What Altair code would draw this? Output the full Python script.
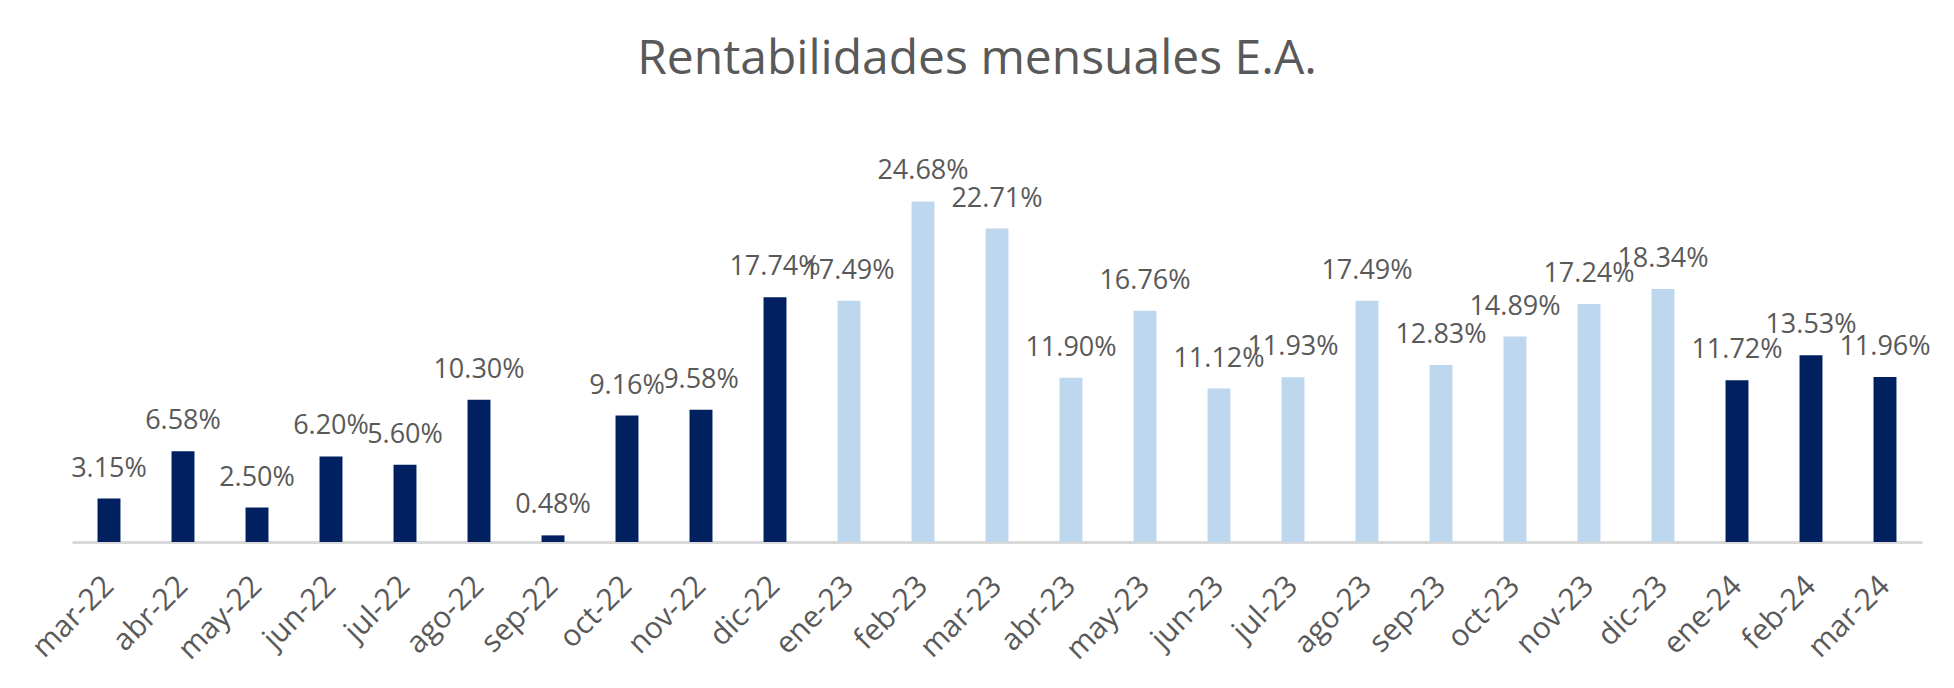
import altair as alt
import pandas as pd

meses = ["mar-22", "abr-22", "may-22", "jun-22", "jul-22", "ago-22", "sep-22", "oct-22",
         "nov-22", "dic-22", "ene-23", "feb-23", "mar-23", "abr-23", "may-23", "jun-23",
         "jul-23", "ago-23", "sep-23", "oct-23", "nov-23", "dic-23", "ene-24", "feb-24", "mar-24"]
rentabilidad = [3.15, 6.58, 2.50, 6.20, 5.60, 10.30, 0.48, 9.16, 9.58, 17.74, 17.49, 24.68,
                22.71, 11.90, 16.76, 11.12, 11.93, 17.49, 12.83, 14.89, 17.24, 18.34, 11.72,
                13.53, 11.96]
anio = [m.split("-")[1] for m in meses]

df = pd.DataFrame({"mes": meses, "valor": rentabilidad, "anio": anio})

FONT = "Open Sans"
GRIS = "#595959"

base = alt.Chart(df).transform_calculate(
    etiqueta="format(datum.valor, '.2f') + '%'"
)

x = alt.X("mes:N", sort=meses, title=None,
          scale=alt.Scale(paddingInner=0.69, paddingOuter=0.345),
          axis=alt.Axis(labelAngle=-45, labelAlign="right", labelBaseline="middle",
                        labelPadding=39, ticks=False, domainColor="#d9d9d9",
                        domainWidth=3, labelFont=FONT, labelFontSize=30,
                        labelColor=GRIS, grid=False, labelOverlap=False))
y = alt.Y("valor:Q", title=None, scale=alt.Scale(domain=[0, 30], nice=False), axis=None)

bars = base.mark_bar().encode(
    x=x, y=y,
    color=alt.Color("anio:N", legend=None,
                    scale=alt.Scale(domain=["22", "23", "24"],
                                    range=["#002060", "#BDD7EE", "#002060"])),
)

labels = base.mark_text(font=FONT, fontSize=27, color=GRIS, dy=-22,
                        baseline="alphabetic", align="center").encode(
    x=alt.X("mes:N", sort=meses), y=y, text="etiqueta:N"
)

chart = alt.layer(bars, labels).properties(
    width=1850, height=414,
    background="#ffffff",
    title=alt.TitleParams("Rentabilidades mensuales E.A.", font=FONT, fontSize=48,
                          fontWeight="normal", color=GRIS, anchor="middle",
                          offset=44, dx=-20),
    autosize=alt.AutoSizeParams(type="none"),
    padding={"left": 64, "top": 120, "right": 24, "bottom": 138},
).configure_view(stroke="transparent", strokeWidth=0)

chart.save("out.html", embed_options={"renderer": "svg", "actions": False})
